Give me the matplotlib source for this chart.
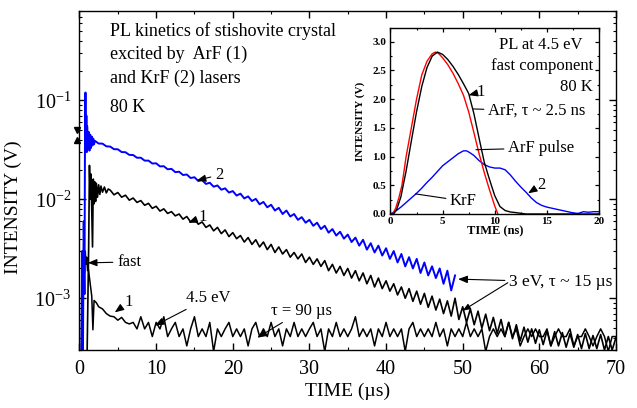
import numpy as np
import matplotlib
matplotlib.use("Agg")
import matplotlib.pyplot as plt
from matplotlib.ticker import MultipleLocator, LogLocator, NullFormatter, FixedLocator, FixedFormatter

plt.rcParams['font.family'] = ['Liberation Serif', 'DejaVu Serif']
plt.rcParams['mathtext.default'] = 'regular'

# ---- main plot data (time in us, intensity in V) ----
# curve 2 (KrF, blue): early spike, then 3 eV decay sampled every 0.5 us from 2 us
blue_t0 = [0.0, 0.25, 0.35, 0.45, 0.55, 0.65, 0.72, 0.78, 0.85, 0.9, 0.95, 1.0,
           1.1, 1.2, 1.3, 1.4, 1.5, 1.6, 1.7, 1.8, 1.9]
blue_v0 = [2.5e-4, 2.8e-4, 0.0030, 2.7e-4, 0.0060, 0.0011, 0.05, 0.12, 0.04, 0.07,
           0.030, 0.055, 0.033, 0.048, 0.031, 0.045, 0.033, 0.043, 0.035, 0.041, 0.036]
blue_v = [0.0390, 0.0366, 0.0365, 0.0343, 0.0341, 0.0321, 0.0320, 0.0300, 0.0299, 0.0281,
          0.0280, 0.0263, 0.0263, 0.0246, 0.0246, 0.0230, 0.0231, 0.0215, 0.0216, 0.0201,
          0.0203, 0.0188, 0.0190, 0.0176, 0.0178, 0.0164, 0.0167, 0.0153, 0.0156, 0.0143,
          0.0147, 0.0134, 0.0138, 0.0125, 0.0129, 0.0117, 0.0121, 0.0109, 0.0114, 0.0102,
          0.0107, 0.0096, 0.0101, 0.0089, 0.0094, 0.0083, 0.0088, 0.0077, 0.0082, 0.0071,
          0.0077, 0.0067, 0.0071, 0.0062, 0.0066, 0.0058, 0.0062, 0.0054, 0.0058, 0.0050,
          0.0054, 0.0046, 0.0050, 0.0043, 0.0047, 0.0040, 0.0044, 0.0037, 0.0041, 0.0034,
          0.0039, 0.0031, 0.0036, 0.0029, 0.0034, 0.0027, 0.0032, 0.0025, 0.0030, 0.0023,
          0.0028, 0.0021, 0.0026, 0.0020, 0.0025, 0.0018, 0.0023, 0.0017, 0.0021, 0.0016,
          0.0020, 0.0014, 0.0019, 0.0012, 0.0017]

# curve 1 (ArF, black), 3 eV slow component: early part, then every 0.5 us from 4 us
slow_t0 = [1.0, 1.2, 1.3, 1.4, 1.5, 1.6, 1.7, 1.8, 1.9, 2.0, 2.1, 2.2, 2.35, 2.5,
           2.65, 2.8, 3.0, 3.25, 3.5, 3.75]
slow_v0 = [3e-4, 0.0035, 0.022, 0.010, 0.018, 0.008, 0.0033, 0.016, 0.009, 0.015,
           0.0095, 0.0145, 0.0105, 0.0140, 0.0112, 0.0136, 0.0118, 0.0133, 0.0116, 0.0127]
slow_v = [0.0124, 0.0111, 0.0117, 0.0105, 0.0110, 0.0098, 0.0103, 0.0093, 0.0097, 0.0087,
          0.0091, 0.0081, 0.0085, 0.0076, 0.0080, 0.0072, 0.0075, 0.0068, 0.0071, 0.0063,
          0.0067, 0.0059, 0.0063, 0.0056, 0.0059, 0.0052, 0.0055, 0.0048, 0.0052, 0.0045,
          0.0049, 0.0042, 0.0046, 0.0040, 0.0043, 0.0037, 0.0041, 0.0035, 0.0039, 0.0033,
          0.0037, 0.0031, 0.0035, 0.0029, 0.0033, 0.0028, 0.0031, 0.0026, 0.0029, 0.0025,
          0.0028, 0.0023, 0.0026, 0.0022, 0.0025, 0.0021, 0.0024, 0.0019, 0.0022, 0.0018,
          0.0021, 0.0017, 0.0020, 0.0016, 0.0019, 0.0015, 0.0018, 0.0014, 0.0017, 0.0013,
          0.0016, 0.00125, 0.0015, 0.00118, 0.0014, 0.00108, 0.0013, 0.00100, 0.00125, 0.00093,
          0.00118, 0.00087, 0.00112, 0.00081, 0.00105, 0.00076, 0.00098, 0.00070, 0.00094, 0.00066,
          0.00100, 0.00061, 0.00082, 0.00057, 0.00078, 0.00054, 0.00074, 0.00050, 0.00069, 0.00047,
          0.00064, 0.00044, 0.00061, 0.00041, 0.00057, 0.00039, 0.00054, 0.00037, 0.00051, 0.00036,
          0.00049, 0.00035, 0.00048, 0.00034, 0.00047, 0.00033, 0.00046, 0.00033, 0.00045, 0.00032,
          0.00044, 0.00032, 0.00043, 0.00031, 0.00044, 0.00031, 0.00042, 0.00031, 0.00043, 0.00030,
          0.00041, 0.00030, 0.00040]

# curve 1 (ArF, black), 4.5 eV fast component: early part, then every 0.5 us from 7 us
fast_t0 = [0.0, 0.25, 0.35, 0.45, 0.55, 0.65, 0.75, 0.85, 0.95, 1.05, 1.15, 1.3, 1.45,
           1.6, 1.75, 1.9, 2.2, 2.5, 3.0, 3.5, 4.0, 4.5, 5.0, 5.5, 6.0, 6.5]
fast_v0 = [2.5e-4, 3e-4, 0.0025, 0.0012, 0.0036, 0.0018, 0.0030, 0.0022, 0.0026, 0.0019,
           0.0020, 0.0016, 0.0013, 0.00105, 0.00048, 0.00095, 0.00090, 0.00082, 0.00078,
           0.00070, 0.00066, 0.00065, 0.00060, 0.00064, 0.00057, 0.00055]
fast_v = [0.00057, 0.00049, 0.00065, 0.00049, 0.00057, 0.00041, 0.00057, 0.00049, 0.00065, 0.00041,
          0.00049, 0.00057, 0.00041, 0.00049, 0.00033, 0.00049, 0.00065, 0.00041, 0.00049, 0.00041,
          0.00057, 0.00029, 0.00049, 0.00041, 0.00049, 0.00057, 0.00041, 0.00049, 0.00041, 0.00049,
          0.00033, 0.00049, 0.00057, 0.00041, 0.00049, 0.00041, 0.00057, 0.00041, 0.00049, 0.00033,
          0.00049, 0.00041, 0.00057, 0.00041, 0.00049, 0.00041, 0.00049, 0.00057, 0.00041, 0.00049,
          0.00029, 0.00049, 0.00041, 0.00057, 0.00041, 0.00049, 0.00041, 0.00049, 0.00065, 0.00041,
          0.00049, 0.00041, 0.00049, 0.00033, 0.00049, 0.00041, 0.00057, 0.00041, 0.00049, 0.00041,
          0.00049, 0.00029, 0.00049, 0.00057, 0.00041, 0.00049, 0.00041, 0.00049, 0.00041, 0.00057,
          0.00041, 0.00049, 0.00033, 0.00049, 0.00041, 0.00049, 0.00041, 0.00057, 0.00041, 0.00049,
          0.00041, 0.00049, 0.00029, 0.00041, 0.00049, 0.00041, 0.00049, 0.00041, 0.00057, 0.00041,
          0.00049, 0.00033, 0.00041, 0.00049, 0.00041, 0.00049, 0.00041, 0.00041, 0.00049, 0.00033,
          0.00041, 0.00049, 0.00041, 0.00041, 0.00049, 0.00033, 0.00041, 0.00041, 0.00049, 0.00041,
          0.00033, 0.00041, 0.00049, 0.00041, 0.00029, 0.00041, 0.00041]

# ---- inset data (time in ns, intensity in V) ----
pulse_t = [0.0, 0.2, 0.5, 0.8, 1.1, 1.5, 2.0, 2.5, 3.0, 3.5, 4.0, 4.3, 4.6, 5.0, 5.5,
           6.0, 6.5, 7.0, 7.5, 8.0, 8.5, 9.0, 9.5, 10.0, 10.3]
pulse_v = [0.0, 0.0, 0.10, 0.28, 0.50, 1.00, 1.50, 2.00, 2.42, 2.66, 2.79, 2.82, 2.80,
           2.72, 2.60, 2.45, 2.27, 2.07, 1.78, 1.42, 1.05, 0.72, 0.42, 0.14, 0.0]
arf_t = [0.0, 0.3, 0.6, 1.0, 1.5, 2.0, 2.5, 3.0, 3.5, 4.0, 4.5, 5.0, 5.5, 6.0, 6.5, 7.0,
         7.5, 8.0, 8.5, 9.0, 9.5, 10.0, 10.5, 11.0, 11.5, 12.0, 12.5, 13.0, 20.0]
arf_v = [0.0, 0.0, 0.08, 0.30, 0.75, 1.27, 1.78, 2.22, 2.55, 2.75, 2.82, 2.78, 2.69, 2.57,
         2.43, 2.27, 2.10, 1.75, 1.32, 0.90, 0.60, 0.32, 0.13, 0.06, 0.035, 0.025, 0.012, 0.0, 0.0]
krf_t = [0.0, 0.5, 1.0, 1.5, 2.0, 2.5, 3.0, 3.5, 4.0, 4.5, 5.0, 5.5, 6.0, 6.5, 7.0, 7.3,
         7.6, 8.0, 8.5, 9.0, 9.5, 10.0, 10.5, 11.0, 11.5, 12.0, 12.5, 13.0, 13.5, 14.0,
         14.5, 15.0, 15.5, 16.0, 16.5, 17.0, 17.5, 18.0, 18.5, 19.0, 19.5, 20.0]
krf_v = [0.0, 0.05, 0.12, 0.20, 0.28, 0.36, 0.45, 0.55, 0.64, 0.74, 0.84, 0.91, 0.98, 1.05,
         1.10, 1.10, 1.07, 1.02, 0.93, 0.86, 0.82, 0.80, 0.80, 0.77, 0.68, 0.57, 0.47, 0.38,
         0.28, 0.20, 0.15, 0.12, 0.10, 0.08, 0.06, 0.04, 0.02, 0.01, 0.04, 0.03, 0.04, 0.04]

yticks_main = [1e-3, 1e-2, 1e-1]
yticklabels_main = ['$10^{-3}$', '$10^{-2}$', '$10^{-1}$']


def P(x, y):
    # pixel position in the 637x408 picture -> figure fraction
    return (x / 637.0, 1 - y / 408.0)


fig = plt.figure(figsize=(6.37, 4.08), dpi=100)
ax = fig.add_axes([0.1248, 0.1422, 0.8422, 0.8309])

t_blue = np.concatenate([blue_t0, 2 + 0.5 * np.arange(len(blue_v))])
v_blue = np.concatenate([blue_v0, blue_v])
t_slow = np.concatenate([slow_t0, 4 + 0.5 * np.arange(len(slow_v))])
v_slow = np.concatenate([slow_v0, slow_v])
t_fast = np.concatenate([fast_t0, 7 + 0.5 * np.arange(len(fast_v))])
v_fast = np.concatenate([fast_v0, fast_v])

ax.plot(t_fast, v_fast, color='black', lw=1.1)
ax.plot(t_slow, v_slow, color='black', lw=1.2)
ax.plot(t_blue, v_blue, color='#0000ff', lw=1.4)

ax.set_yscale('log')
ax.set_xlim(0, 70)
ax.set_ylim(3e-4, 0.8)
ax.xaxis.set_major_locator(MultipleLocator(10))
ax.xaxis.set_minor_locator(MultipleLocator(5))
ax.yaxis.set_major_locator(FixedLocator(yticks_main))
ax.yaxis.set_major_formatter(FixedFormatter(yticklabels_main))
ax.yaxis.set_minor_locator(LogLocator(base=10, subs=np.arange(2, 10)))
ax.yaxis.set_minor_formatter(NullFormatter())
ax.tick_params(which='both', direction='in', top=True, right=True, labelsize=14.5)
ax.tick_params(which='major', length=5, width=1)
ax.tick_params(which='minor', length=2.5, width=0.8)
ax.tick_params(axis='x', pad=7)
ax.tick_params(axis='y', pad=6)
for s in ax.spines.values():
    s.set_linewidth(1.0)

ax.set_xlabel('TIME (µs)', fontsize=14)
ax.set_ylabel('INTENSITY (V)', fontsize=14)
ax.yaxis.set_label_coords(-0.107, 0.42)
ax.xaxis.set_label_coords(0.5, -0.097)

# header text
for txt, yy in [('PL kinetics of stishovite crystal', 31), ('excited by  ArF (1)', 54),
                ('and KrF (2) lasers', 78), ('80 K', 107)]:
    fig.text(*P(110, yy), txt, fontsize=13, va='center', ha='left')

# small double arrow on the left axis
ax.plot([-0.3], [0.0505], marker='v', color='black', ms=4, clip_on=False)
ax.plot([-0.3], [0.040], marker='^', color='black', ms=4, clip_on=False)

fs = 12
arr = dict(arrowstyle='-|>,head_length=0.45,head_width=0.18', color='black', lw=0.8,
           shrinkA=1, shrinkB=0)
line = dict(arrowstyle='-', color='black', lw=0.8, shrinkA=1, shrinkB=0)

ax.annotate('2', xy=(15.3, 0.0155), xytext=P(219, 175), textcoords='figure fraction',
            fontsize=fs, ha='center', va='center', arrowprops=arr)
ax.annotate('1', xy=(14.2, 0.0058), xytext=P(203, 217), textcoords='figure fraction',
            fontsize=fs, ha='center', va='center', arrowprops=arr)
ax.annotate('fast', xy=(1.1, 0.00228), xytext=P(117, 262), textcoords='figure fraction',
            fontsize=fs, ha='left', va='center', arrowprops=arr)
ax.annotate('1', xy=(4.6, 0.00072), xytext=P(129, 302), textcoords='figure fraction',
            fontsize=fs, ha='center', va='center', arrowprops=arr)
ax.annotate('4.5 eV', xy=(9.85, 0.00053), xytext=P(186, 298), textcoords='figure fraction',
            fontsize=fs, ha='left', va='center', arrowprops=arr)
ax.annotate('τ = 90 µs', xy=(23.2, 0.0004), xytext=P(271, 311), textcoords='figure fraction',
            fontsize=fs, ha='left', va='center', arrowprops=arr)
ax.annotate('3 eV, τ ~ 15 µs', xy=(49.4, 0.00156), xytext=P(509, 282),
            textcoords='figure fraction', fontsize=12.5, ha='left', va='center', arrowprops=arr)
ax.annotate('', xy=(50.0, 0.00075), xytext=P(509, 282), textcoords='figure fraction',
            arrowprops=arr)

# ---- inset ----
ins = fig.add_axes([0.613, 0.4755, 0.3273, 0.4559])
ins.plot(krf_t, krf_v, color='#0000ff', lw=1.0)
ins.plot(pulse_t, pulse_v, color='#ff0000', lw=1.0)
ins.plot(arf_t, arf_v, color='black', lw=1.0)
ins.set_xlim(0, 20)
ins.set_ylim(0, 3.24)
ins.xaxis.set_major_locator(MultipleLocator(5))
ins.xaxis.set_minor_locator(MultipleLocator(2.5))
ins.yaxis.set_major_locator(MultipleLocator(0.5))
ins.yaxis.set_major_formatter(plt.FormatStrFormatter('%.1f'))
ins.yaxis.set_minor_locator(MultipleLocator(0.25))
ins.tick_params(which='both', direction='in', top=True, right=True, labelsize=8)
ins.tick_params(which='major', length=3, width=0.9)
ins.tick_params(which='minor', length=1.5, width=0.8)
ins.tick_params(axis='x', pad=2)
ins.tick_params(axis='y', pad=3)
for lab in ins.get_xticklabels() + ins.get_yticklabels():
    lab.set_fontweight('bold')
for s in ins.spines.values():
    s.set_linewidth(1.0)
ins.set_xlabel('TIME (ns)', fontsize=9, fontweight='bold', labelpad=0)
ins.set_ylabel('INTENSITY (V)', fontsize=8, fontweight='bold', labelpad=5)

fig.text(*P(541, 45), 'PL at 4.5 eV', fontsize=fs, ha='center', va='center')
fig.text(*P(593, 66), 'fast component', fontsize=fs, ha='right', va='center')
fig.text(*P(593, 87), '80 K', fontsize=fs, ha='right', va='center')

ins.annotate('1', xy=(7.5, 2.07), xytext=P(481, 92), textcoords='figure fraction',
             fontsize=fs, ha='center', va='center', arrowprops=arr)
ins.annotate('ArF, τ ~ 2.5 ns', xy=(7.9, 1.83), xytext=P(488, 111),
             textcoords='figure fraction', fontsize=fs, ha='left', va='center',
             arrowprops=line)
ins.annotate('ArF pulse', xy=(8.2, 1.12), xytext=P(508, 148), textcoords='figure fraction',
             fontsize=fs, ha='left', va='center', arrowprops=line)
ins.annotate('2', xy=(13.2, 0.36), xytext=P(541, 185), textcoords='figure fraction',
             fontsize=fs, ha='center', va='center', arrowprops=arr)
ins.annotate('KrF', xy=(2.4, 0.35), xytext=P(450, 201), textcoords='figure fraction',
             fontsize=fs, ha='left', va='center', arrowprops=line)

fig.savefig('out.png', dpi=100)
